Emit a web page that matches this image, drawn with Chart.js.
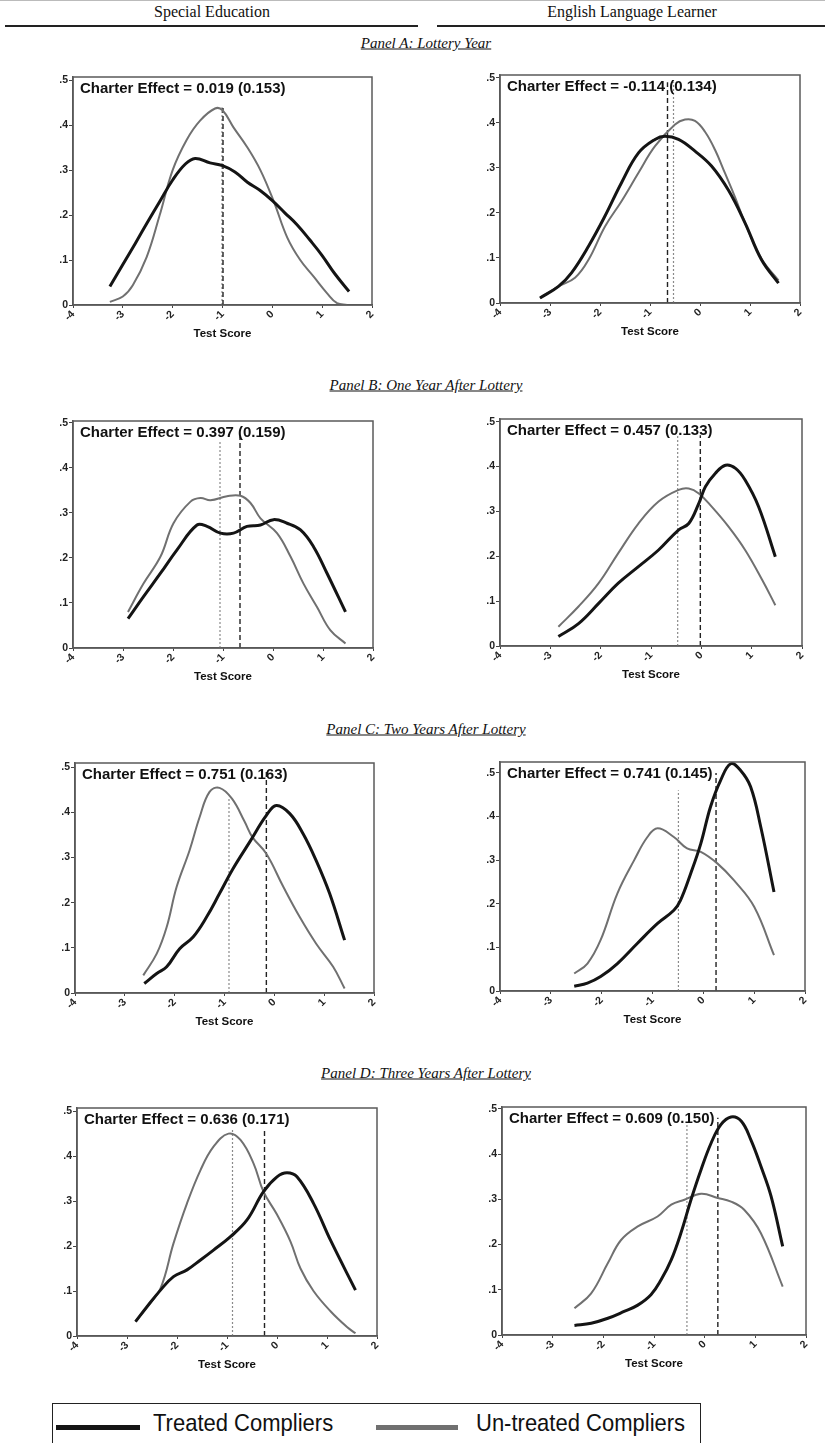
<!DOCTYPE html>
<html>
<head>
<meta charset="utf-8">
<script src="https://cdn.jsdelivr.net/npm/chart.js@4.4.1/dist/chart.umd.min.js"></script>
<style>
  body { margin: 0; background: #fff; }
  #page { position: relative; width: 825px; height: 1443px; overflow: hidden; background: #fff; color: #111; font-family: "Liberation Serif", "Times New Roman", serif; }
  .abs { position: absolute; white-space: nowrap; }
  .group { top: 3px; font-size: 16px; transform: translateX(-50%); }
  .rule { top: 25px; height: 2px; background: #222; }
  .panel-title { font-size: 15px; font-style: italic; text-decoration: underline; transform: translate(-50%, -50%); }
  canvas { position: absolute; }
  .legend-text { font-family: "Liberation Sans", Arial, sans-serif; font-size: 22px; line-height: 22px; transform: scaleY(1.1); transform-origin: left center; }
</style>
</head>
<body>
<div id="page"></div>
<script>
// column headings and panel headings
const groups = ['Special Education', 'English Language Learner'];
const panelTitles = [
  'Panel A: Lottery Year',
  'Panel B: One Year After Lottery',
  'Panel C: Two Years After Lottery',
  'Panel D: Three Years After Lottery'
];
const seriesNames = ['Treated Compliers', 'Un-treated Compliers'];

// axis ticks
const xTicks = [-4, -3, -2, -1, 0, 1, 2];
const yTicks = [0, 0.1, 0.2, 0.3, 0.4, 0.5];

// charter effect estimates (standard errors)
const spedEffect = [0.019, 0.397, 0.751, 0.636];
const spedSE = [0.153, 0.159, 0.163, 0.171];
const ellEffect = [-0.114, 0.457, 0.741, 0.609];
const ellSE = [0.134, 0.133, 0.145, 0.150];

// group means (vertical lines) and how high each line reaches
const spedTreatedMean = [-0.99, -0.66, -0.16, -0.25];
const spedUntreatedMean = [-1.01, -1.06, -0.91, -0.89];
const ellTreatedMean = [-0.65, -0.02, 0.25, 0.26];
const ellUntreatedMean = [-0.53, -0.47, -0.49, -0.35];
const spedLineTop = [[0.44, 0.44], [0.47, 0.46], [0.49, 0.43], [0.46, 0.46]];
const ellLineTop = [[0.49, 0.49], [0.47, 0.47], [0.5, 0.46], [0.48, 0.465]];

// kernel densities, [score, density]
const spedA_treated = [[-3.26,0.041],[-3.0,0.09],[-2.75,0.137],[-2.5,0.185],[-2.25,0.232],[-2.0,0.278],[-1.75,0.313],[-1.55,0.326],[-1.25,0.316],[-1.0,0.31],[-0.75,0.296],[-0.5,0.273],[-0.25,0.255],[0,0.232],[0.25,0.205],[0.5,0.178],[0.75,0.145],[1.0,0.11],[1.25,0.07],[1.54,0.03]];
const spedA_untreated = [[-3.26,0.007],[-3.0,0.019],[-2.8,0.044],[-2.52,0.107],[-2.26,0.2],[-2.0,0.3],[-1.72,0.367],[-1.45,0.41],[-1.15,0.437],[-1.0,0.433],[-0.78,0.395],[-0.51,0.352],[-0.24,0.3],[0.03,0.23],[0.3,0.15],[0.56,0.1],[0.83,0.063],[1.1,0.026],[1.3,0.004],[1.5,0.0]];
const ellA_treated = [[-3.2,0.011],[-2.83,0.037],[-2.57,0.067],[-2.23,0.126],[-1.9,0.193],[-1.57,0.267],[-1.23,0.333],[-0.9,0.363],[-0.7,0.37],[-0.43,0.363],[-0.1,0.337],[0.23,0.304],[0.57,0.25],[0.9,0.178],[1.23,0.096],[1.57,0.044]];
const ellA_untreated = [[-3.2,0.011],[-2.83,0.037],[-2.5,0.056],[-2.23,0.096],[-1.9,0.17],[-1.57,0.226],[-1.23,0.289],[-0.9,0.348],[-0.5,0.396],[-0.3,0.407],[-0.1,0.404],[0.1,0.38],[0.3,0.34],[0.5,0.288],[0.7,0.235],[0.9,0.178],[1.23,0.098],[1.57,0.05]];

const spedB_treated = [[-2.9,0.065],[-2.59,0.114],[-2.25,0.166],[-1.92,0.218],[-1.52,0.273],[-1.32,0.27],[-1.05,0.255],[-0.79,0.255],[-0.52,0.27],[-0.25,0.273],[0.01,0.285],[0.28,0.277],[0.55,0.262],[0.81,0.225],[1.08,0.166],[1.45,0.08]];
const spedB_untreated = [[-2.9,0.08],[-2.59,0.143],[-2.25,0.203],[-1.99,0.277],[-1.65,0.325],[-1.45,0.333],[-1.25,0.328],[-0.92,0.337],[-0.65,0.338],[-0.45,0.322],[-0.25,0.288],[0.08,0.255],[0.35,0.203],[0.61,0.143],[0.88,0.091],[1.15,0.039],[1.45,0.01]];
const ellB_treated = [[-2.84,0.021],[-2.44,0.05],[-2.04,0.095],[-1.65,0.14],[-1.25,0.177],[-0.85,0.214],[-0.45,0.259],[-0.25,0.273],[-0.05,0.318],[0.08,0.355],[0.28,0.385],[0.48,0.403],[0.68,0.396],[0.87,0.37],[1.14,0.31],[1.47,0.199]];
const ellB_untreated = [[-2.84,0.043],[-2.44,0.088],[-2.04,0.14],[-1.65,0.207],[-1.25,0.273],[-0.85,0.322],[-0.45,0.348],[-0.25,0.351],[-0.05,0.34],[0.21,0.31],[0.54,0.266],[0.87,0.214],[1.21,0.147],[1.47,0.091]];

const spedC_treated = [[-2.61,0.021],[-2.36,0.043],[-2.16,0.058],[-1.9,0.098],[-1.63,0.124],[-1.36,0.168],[-1.1,0.22],[-0.83,0.275],[-0.49,0.335],[-0.16,0.393],[0.04,0.415],[0.31,0.397],[0.58,0.352],[0.84,0.293],[1.11,0.22],[1.41,0.117]];
const spedC_untreated = [[-2.63,0.039],[-2.36,0.087],[-2.16,0.146],[-1.96,0.235],[-1.7,0.316],[-1.5,0.389],[-1.3,0.445],[-1.1,0.454],[-0.85,0.43],[-0.6,0.38],[-0.44,0.345],[-0.16,0.308],[0.18,0.235],[0.51,0.168],[0.84,0.109],[1.18,0.058],[1.41,0.01]];
const ellC_treated = [[-2.54,0.011],[-2.28,0.018],[-2.02,0.033],[-1.69,0.063],[-1.3,0.109],[-0.9,0.155],[-0.58,0.185],[-0.45,0.208],[-0.25,0.269],[-0.05,0.338],[0.14,0.422],[0.34,0.483],[0.54,0.521],[0.73,0.506],[0.93,0.468],[1.13,0.376],[1.39,0.227]];
const ellC_untreated = [[-2.54,0.04],[-2.28,0.063],[-2.02,0.117],[-1.69,0.224],[-1.36,0.3],[-1.1,0.353],[-0.9,0.373],[-0.58,0.353],[-0.32,0.327],[-0.05,0.319],[0.28,0.292],[0.6,0.254],[1.0,0.193],[1.39,0.082]];

const spedD_treated = [[-2.83,0.032],[-2.6,0.065],[-2.33,0.102],[-2.07,0.132],[-1.8,0.147],[-1.53,0.169],[-1.27,0.191],[-0.93,0.221],[-0.6,0.258],[-0.27,0.321],[0,0.354],[0.2,0.363],[0.4,0.354],[0.73,0.295],[1.07,0.213],[1.57,0.102]];
const spedD_untreated = [[-2.83,0.032],[-2.6,0.065],[-2.33,0.106],[-2.07,0.206],[-1.8,0.295],[-1.53,0.369],[-1.27,0.421],[-0.97,0.45],[-0.73,0.436],[-0.47,0.384],[-0.27,0.321],[0,0.27],[0.27,0.21],[0.47,0.15],[0.73,0.1],[1.07,0.055],[1.4,0.02],[1.57,0.006]];
const ellD_treated = [[-2.57,0.021],[-2.24,0.026],[-1.91,0.037],[-1.59,0.052],[-1.32,0.066],[-1.06,0.089],[-0.86,0.122],[-0.66,0.166],[-0.47,0.225],[-0.27,0.299],[-0.07,0.366],[0.13,0.425],[0.32,0.465],[0.52,0.482],[0.72,0.473],[0.91,0.432],[1.11,0.373],[1.31,0.307],[1.54,0.196]];
const ellD_untreated = [[-2.57,0.059],[-2.24,0.092],[-1.91,0.159],[-1.65,0.21],[-1.32,0.24],[-0.93,0.262],[-0.66,0.288],[-0.4,0.299],[-0.07,0.312],[0.26,0.303],[0.52,0.295],[0.78,0.277],[1.11,0.225],[1.54,0.107]];

const spedTreated = [spedA_treated, spedB_treated, spedC_treated, spedD_treated];
const spedUntreated = [spedA_untreated, spedB_untreated, spedC_untreated, spedD_untreated];
const ellTreated = [ellA_treated, ellB_treated, ellC_treated, ellD_treated];
const ellUntreated = [ellA_untreated, ellB_untreated, ellC_untreated, ellD_untreated];

// plot frames on the page: [left, right, top, bottom]
const spedBoxes = [[73,372,77,305],[73,373,421,648],[75,374,763,993],[77,377,1108,1336]];
const ellBoxes = [[500,800,75,303],[500,802,419,646],[500,805,762,991],[502,806,1107,1335]];
const spedYMax = [0.507, 0.504, 0.509, 0.507];
const ellYMax = [0.506, 0.506, 0.525, 0.504];
const titleY = [43, 385, 729, 1073];

const TREATED = '#141414', UNTREATED = '#707070';
const YW = 40, XH = 40, PT = 10, PR = 15;

const page = document.getElementById('page');
function addDiv(cls, text, css) {
  const d = document.createElement('div');
  d.className = 'abs ' + cls;
  if (text) d.textContent = text;
  Object.assign(d.style, css);
  page.appendChild(d);
  return d;
}

// headings
addDiv('', '', { left: '0px', top: '0px', width: '825px', height: '1px', background: '#bbb' });
addDiv('group', groups[0], { left: '212px' });
addDiv('group', groups[1], { left: '632px' });
addDiv('rule', '', { left: '5px', width: '413px' });
addDiv('rule', '', { left: '437px', width: '388px' });
panelTitles.forEach((t, i) => addDiv('panel-title', t, { left: '426px', top: titleY[i] + 'px' }));

const frameAndNote = {
  id: 'frameAndNote',
  afterDatasetsDraw(chart, args, opts) {
    const { ctx, chartArea: a } = chart;
    ctx.save();
    ctx.strokeStyle = '#5a5a5a';
    ctx.lineWidth = 1.5;
    ctx.strokeRect(a.left, a.top, a.right - a.left, a.bottom - a.top);
    ctx.fillStyle = '#111';
    ctx.font = 'bold 15px "Liberation Sans", Arial, sans-serif';
    ctx.textBaseline = 'alphabetic';
    ctx.fillText(opts.text, a.left + 7, a.top + 16);
    ctx.restore();
  }
};

const pts = arr => arr.map(([x, y]) => ({ x, y }));

function makePanel(box, yMax, treated, untreated, tMean, uMean, tops, effect, se) {
  const [l, r, t, b] = box;
  const cv = document.createElement('canvas');
  cv.width = YW + (r - l) + PR;
  cv.height = PT + (b - t) + XH;
  cv.style.left = (l - YW) + 'px';
  cv.style.top = (t - PT) + 'px';
  page.appendChild(cv);

  new Chart(cv.getContext('2d'), {
    type: 'line',
    data: {
      datasets: [
        { label: seriesNames[0], data: pts(treated), borderColor: TREATED, borderWidth: 3, pointRadius: 0, tension: 0.4, order: 0 },
        { label: seriesNames[1], data: pts(untreated), borderColor: UNTREATED, borderWidth: 2, pointRadius: 0, tension: 0.4, order: 1 },
        { label: 'treated mean', data: [{ x: tMean, y: 0 }, { x: tMean, y: tops[0] }], borderColor: '#222', borderWidth: 1.4, borderDash: [5, 3], pointRadius: 0, order: 2 },
        { label: 'untreated mean', data: [{ x: uMean, y: 0 }, { x: uMean, y: tops[1] }], borderColor: '#8a8a8a', borderWidth: 1.2, borderDash: [2, 2], pointRadius: 0, order: 3 }
      ]
    },
    options: {
      responsive: false,
      animation: false,
      devicePixelRatio: 1,
      events: [],
      layout: { padding: { top: PT, right: PR, left: 0, bottom: 0 } },
      plugins: {
        legend: { display: false },
        tooltip: { enabled: false },
        frameAndNote: { text: 'Charter Effect = ' + effect.toFixed(3) + ' (' + se.toFixed(3) + ')' }
      },
      scales: {
        x: {
          type: 'linear', min: -4, max: 2,
          afterBuildTicks: s => { s.ticks = xTicks.map(v => ({ value: v })); },
          afterFit: s => { s.height = XH; },
          ticks: { minRotation: 45, maxRotation: 45, padding: 0, color: '#222', font: { family: '"Liberation Sans", Arial', size: 10.5, weight: 'bold' }, callback: v => String(v) },
          grid: { drawOnChartArea: false, tickLength: 3, color: '#444' },
          border: { color: '#555', width: 1.5 },
          title: { display: true, text: 'Test Score', color: '#111', font: { family: '"Liberation Sans", Arial', size: 11.5, weight: 'bold' }, padding: { top: 0, bottom: 4 } }
        },
        y: {
          min: 0, max: yMax,
          afterBuildTicks: s => { s.ticks = yTicks.map(v => ({ value: v })); },
          afterFit: s => { s.width = YW; },
          ticks: { padding: 1, color: '#222', font: { family: '"Liberation Sans", Arial', size: 10.5, weight: 'bold' }, callback: v => v === 0 ? '0' : v.toFixed(1).replace(/^0/, '') },
          grid: { drawOnChartArea: false, tickLength: 4, color: '#444' },
          border: { color: '#555', width: 1.5 }
        }
      }
    },
    plugins: [frameAndNote]
  });
}

for (let i = 0; i < 4; i++) {
  makePanel(spedBoxes[i], spedYMax[i], spedTreated[i], spedUntreated[i], spedTreatedMean[i], spedUntreatedMean[i], spedLineTop[i], spedEffect[i], spedSE[i]);
  makePanel(ellBoxes[i], ellYMax[i], ellTreated[i], ellUntreated[i], ellTreatedMean[i], ellUntreatedMean[i], ellLineTop[i], ellEffect[i], ellSE[i]);
}

// legend
addDiv('', '', { left: '52px', top: '1403px', width: '649px', height: '60px', border: '1.5px solid #222', boxSizing: 'border-box' });
addDiv('', '', { left: '56px', top: '1425px', width: '84px', height: '5px', background: TREATED });
addDiv('', '', { left: '376px', top: '1425px', width: '82px', height: '5px', background: UNTREATED });
addDiv('legend-text', seriesNames[0], { left: '153px', top: '1412px' });
addDiv('legend-text', seriesNames[1], { left: '476px', top: '1412px' });
</script>
</body>
</html>
